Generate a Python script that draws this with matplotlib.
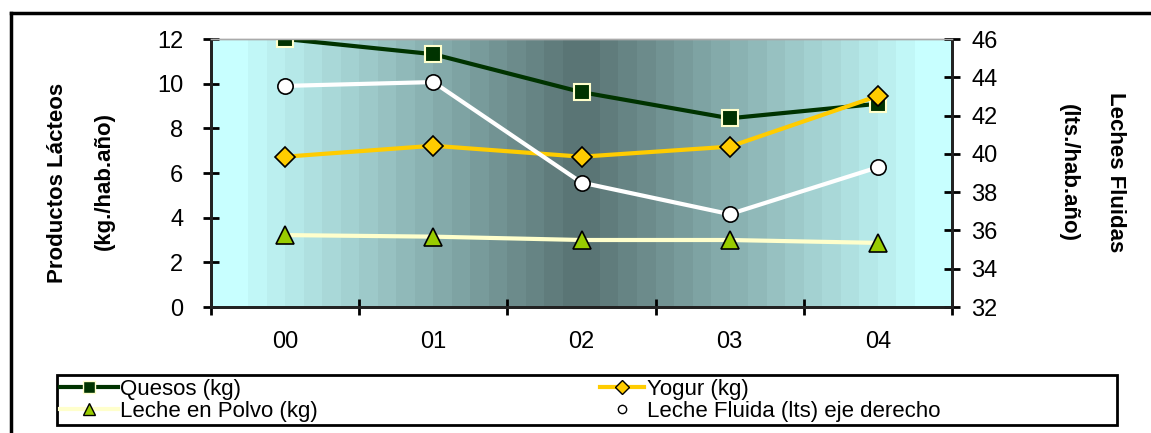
import numpy as np
import matplotlib.pyplot as plt
from matplotlib import rcParams
from matplotlib.colors import LinearSegmentedColormap
from matplotlib.lines import Line2D
from matplotlib.patches import Rectangle

rcParams['font.family'] = ['Liberation Sans', 'DejaVu Sans']

years = ['00', '01', '02', '03', '04']
quesos = [12.0, 11.32, 9.62, 8.45, 9.1]
yogur = [6.73, 7.22, 6.73, 7.18, 9.45]
polvo = [3.22, 3.15, 3.0, 3.0, 2.87]
fluida = [43.55, 43.75, 38.5, 36.85, 39.3]   # eje derecho

x = np.arange(len(years))
W, H = 1151, 433

fig = plt.figure(figsize=(W / 100, H / 100), dpi=100)
ax = fig.add_axes([211/W, 1 - 307/H, 741/W, 268/H])
ax2 = ax.twinx()

# fondo con degradado horizontal (claro en bordes, oscuro al centro)
cmap = LinearSegmentedColormap.from_list('fondo', ['#c8ffff', '#5a7575'])
xs = np.linspace(0, 1, 40)
t = 1 - np.abs(xs - 0.5) * 2
t = np.clip((t - 0.05) / 0.95, 0, 1)
ax.imshow(t[np.newaxis, :], cmap=cmap, aspect='auto', extent=[0, 1, 0, 1],
          transform=ax.transAxes, interpolation='nearest', zorder=0)

l1, = ax.plot(x, quesos, color='#003300', lw=3, marker='s', ms=12,
              mfc='#003300', mec='#ffffcc', mew=1.5, zorder=3)
l3, = ax.plot(x, polvo, color='#ffffcc', lw=3, marker='^', ms=13,
              mfc='#99cc00', mec='black', mew=1.2, zorder=3)
l2, = ax.plot(x, yogur, color='#ffcc00', lw=3, marker='D', ms=10,
              mfc='#ffcc00', mec='black', mew=1.2, zorder=4)
l4, = ax2.plot(x, fluida, color='white', lw=3, marker='o', ms=11,
               mfc='white', mec='black', mew=1.2, zorder=3)

ax.set_xlim(-0.5, 4.5)
ax.set_ylim(0, 12)
ax2.set_ylim(32, 46)
ax.set_yticks(range(0, 13, 2))
ax2.set_yticks(range(32, 47, 2))
ax.set_xticks(np.arange(-0.5, 5, 1))
ax.set_xticklabels([])
ax.set_xticks(x, minor=True)
ax.set_xticklabels(years, minor=True)
ax.tick_params(axis='x', which='minor', length=0, pad=17, labelsize=17)
ax.tick_params(axis='x', which='major', direction='inout', length=12, width=2)
ax.tick_params(axis='y', direction='inout', length=12, width=2, pad=14, labelsize=17)
ax2.tick_params(axis='y', direction='inout', length=12, width=2, pad=8, labelsize=17)

for a in (ax, ax2):
    a.spines['top'].set_color('#aaaaaa')
    a.spines['top'].set_linewidth(1)
    for s in ('left', 'right', 'bottom'):
        a.spines[s].set_linewidth(2)
        a.spines[s].set_color('#222222')

lab = dict(ha='center', va='center', fontsize=16, fontweight='bold',
           family=['Liberation Sans Narrow', 'Liberation Sans'])
fig.text(58/W, 1 - 183/H, 'Productos Lácteos', rotation=90, **lab)
fig.text(104/W, 1 - 181/H, '(kg./hab.año)', rotation=90, **lab)
fig.text(1115/W, 1 - 172/H, 'Leches Fluidas', rotation=270, **lab)
fig.text(1068/W, 1 - 173/H, '(lts./hab.año)', rotation=270, **lab)

# marco de la figura (solo borde izquierdo y superior)
fig.add_artist(Line2D([11/W, 11/W], [0, 1 - 13/H], color='black', lw=2.5))
fig.add_artist(Line2D([11/W, 1], [1 - 13/H, 1 - 13/H], color='black', lw=2.5))

# leyenda: dos columnas dentro de un marco comun
h1 = Line2D([], [], color='#003300', lw=3, marker='s', ms=8,
            mfc='#003300', mec='#ffffcc', mew=1)
h3 = Line2D([], [], color='#ffffcc', lw=3, marker='^', ms=9,
            mfc='#99cc00', mec='black', mew=1)
h2 = Line2D([], [], color='#ffcc00', lw=3, marker='D', ms=7,
            mfc='#ffcc00', mec='black', mew=1)
h4 = Line2D([], [], color='none', marker='o', ms=6, mfc='white', mec='black', mew=1)
leg_kw = dict(loc='upper left', fontsize=16, handletextpad=0.12, labelspacing=0.05,
              borderpad=0.0, borderaxespad=0, frameon=False)
leg1 = fig.legend([h1, h3], ['Quesos (kg)', 'Leche en Polvo (kg)'],
                  bbox_to_anchor=(60/W, 1 - 379/H), handlelength=2.6, **leg_kw)
leg2 = fig.legend([h2, h4], ['Yogur (kg)', 'Leche Fluida (lts) eje derecho'],
                  bbox_to_anchor=(600/W, 1 - 379/H), handlelength=2.0, **leg_kw)
fig.add_artist(Rectangle((57/W, 1 - 425/H), 1060/W, 50/H, transform=fig.transFigure,
                         fill=False, edgecolor='black', lw=2))

fig.savefig('out.png', dpi=100)
